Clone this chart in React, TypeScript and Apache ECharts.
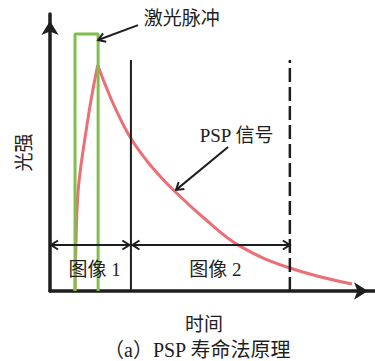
import React, { useEffect, useRef } from "react";
import * as echarts from "echarts";

// Laser pulse (rectangular) outline
const pulseX = [7.7, 7.7, 14.8, 14.8];
const pulseY = [0, 92.8, 92.8, 0];
// PSP signal: rise during pulse, then decay
const riseX = [7.69, 7.94, 8.25, 8.68, 9.54, 10.77, 12.31, 13.54, 14.68];
const riseY = [0, 14.8, 27.4, 36.5, 45.5, 55.2, 66.8, 74.7, 81.6];
const decayX = [14.68, 16.92, 20.0, 24.62, 30.77, 38.46, 47.69, 58.46, 73.85, 92.92];
const decayY = [81.6, 74.7, 66.2, 55.6, 45.6, 35.9, 26.0, 16.2, 8.3, 2.5];
// Gate boundaries (image 1 end, image 2 end)
const gateX = [24.9, 73.8];
const gateTop = 83.4;
const spanY = 16.6;
// Labels
const imageLabels = ["图像 1", "图像 2"];
const imageLabelX = [13.7, 50.9];
const imageLabelY = 7.6;
const laserText = "激光脉冲";
const laserTextPos = [40.5, 98.2];
const laserArrow = [[27.1, 96.0], [14.8, 90.6]];
const pspText = "PSP 信号";
const pspTextPos = [57.4, 56.3];
const pspArrow = [[54.8, 52.0], [38.8, 36.5]];
const xName = "时间";
const yName = "光强";
const caption = "（a）PSP 寿命法原理";

const FONT = "'Liberation Serif', 'Noto Sans CJK SC', serif";
const RED = "#ec6f76";
const GREEN = "#7fc04c";
const INK = "#1e1e1e";

const zip = (xs: number[], ys: number[]) => xs.map((x, i) => [x, ys[i]]);

export default function App() {
  const ref = useRef<HTMLDivElement>(null);
  useEffect(() => {
    document.body.style.margin = "0";
    const chart = echarts.init(ref.current!, undefined, { renderer: "svg" });
    chart.setOption({
      animation: false,
      backgroundColor: "#ffffff",
      title: {
        text: caption,
        left: 104,
        top: 340,
        padding: 0,
        textStyle: { fontFamily: FONT, fontSize: 20, fontWeight: "normal", color: INK, lineHeight: 20 },
      },
      grid: { left: 50, right: 0, top: 14, bottom: 70 },
      xAxis: {
        type: "value",
        min: 0,
        max: 100,
        name: xName,
        nameLocation: "middle",
        nameGap: 24,
        nameTextStyle: { fontFamily: FONT, fontSize: 19, color: INK, padding: [0, 17, 0, 0] },
        axisLine: {
          lineStyle: { color: INK, width: 3.5 },
          symbol: ["none", "arrow"],
          symbolSize: [13, 14],
          symbolOffset: [0, -7],
        },
        axisTick: { show: false },
        axisLabel: { show: false },
        splitLine: { show: false },
      },
      yAxis: {
        type: "value",
        min: 0,
        max: 100,
        name: yName,
        nameLocation: "middle",
        nameGap: 16,
        nameTextStyle: { fontFamily: FONT, fontSize: 19, color: INK },
        axisLine: {
          lineStyle: { color: INK, width: 3.5 },
          symbol: ["none", "arrow"],
          symbolSize: [13, 14],
          symbolOffset: [0, -7],
        },
        axisTick: { show: false },
        axisLabel: { show: false },
        splitLine: { show: false },
      },
      series: [
        {
          type: "line",
          data: zip(pulseX, pulseY),
          showSymbol: false,
          lineStyle: { color: GREEN, width: 3 },
          z: 3,
        },
        {
          type: "line",
          data: zip(riseX, riseY),
          smooth: 0.4,
          showSymbol: false,
          lineStyle: { color: RED, width: 3 },
          z: 2,
        },
        {
          type: "line",
          data: zip(decayX, decayY),
          smooth: 0.4,
          showSymbol: false,
          lineStyle: { color: RED, width: 3 },
          z: 2,
        },
        {
          type: "line",
          data: [[gateX[0], 0], [gateX[0], gateTop]],
          showSymbol: false,
          lineStyle: { color: INK, width: 2 },
        },
        {
          type: "line",
          data: [[gateX[1], 0], [gateX[1], gateTop]],
          showSymbol: false,
          lineStyle: { color: INK, width: 2.5, type: [14, 5] },
        },
      ],
    });

    const px = (p: number[]) => chart.convertToPixel({ gridIndex: 0 }, p) as number[];
    const chevron = (from: number[], to: number[], L = 7, W = 4.5) => {
      const dx = to[0] - from[0];
      const dy = to[1] - from[1];
      const len = Math.hypot(dx, dy) || 1;
      const ux = dx / len, uy = dy / len;
      const nx = -uy, ny = ux;
      return {
        type: "polyline",
        shape: {
          points: [
            [to[0] - L * ux + W * nx, to[1] - L * uy + W * ny],
            [to[0], to[1]],
            [to[0] - L * ux - W * nx, to[1] - L * uy - W * ny],
          ],
        },
        style: { stroke: INK, lineWidth: 2, fill: null },
        z: 10,
      };
    };
    const arrowLine = (a: number[], b: number[], both: boolean) => {
      const els: any[] = [
        { type: "line", shape: { x1: a[0], y1: a[1], x2: b[0], y2: b[1] }, style: { stroke: INK, lineWidth: 2 }, z: 10 },
        chevron(a, b),
      ];
      if (both) els.push(chevron(b, a));
      return els;
    };

    const s0 = px([0, spanY]);
    const s1 = px([gateX[0], spanY]);
    const s2 = px([gateX[1], spanY]);
    const s1a = [s1[0] - 1.5, s1[1]];
    const s1b = [s1[0] + 1.5, s1[1]];
    const la = laserArrow.map(px);
    const pa = pspArrow.map(px);
    const txt = (text: string, p: number[]) => ({
      type: "text",
      x: p[0],
      y: p[1],
      style: { text, fontFamily: FONT, fontSize: 19, fill: INK, align: "center", verticalAlign: "middle" },
      z: 10,
    });

    chart.setOption({
      graphic: [
        ...arrowLine([s0[0] + 1, s0[1]], s1a, true),
        ...arrowLine(s1b, s2, true),
        ...arrowLine(la[0], la[1], false),
        ...arrowLine(pa[0], pa[1], false),
        txt(imageLabels[0], px([imageLabelX[0], imageLabelY])),
        txt(imageLabels[1], px([imageLabelX[1], imageLabelY])),
        txt(laserText, px(laserTextPos)),
        txt(pspText, px(pspTextPos)),
      ],
    });
    return () => chart.dispose();
  }, []);
  return <div ref={ref} style={{ width: 375, height: 361 }} />;
}
